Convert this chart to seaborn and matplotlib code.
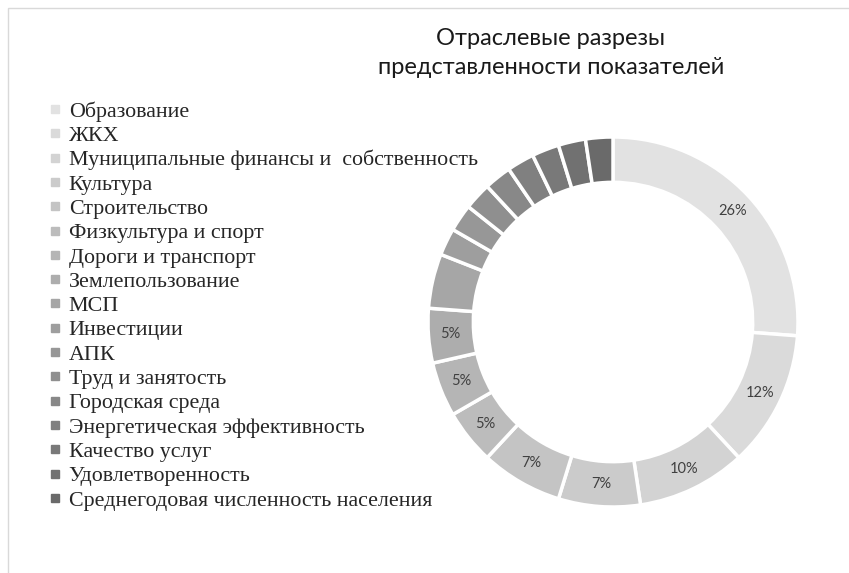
import matplotlib
matplotlib.use("Agg")
import matplotlib.pyplot as plt
import seaborn as sns
import numpy as np
from matplotlib.lines import Line2D
from matplotlib.patches import Rectangle

# data (number of indicators per sector)
sectors = [
    "Образование", "ЖКХ", "Муниципальные финансы и  собственность", "Культура",
    "Строительство", "Физкультура и спорт", "Дороги и транспорт", "Землепользование",
    "МСП", "Инвестиции", "АПК", "Труд и занятость", "Городская среда",
    "Энергетическая эффективность", "Качество услуг", "Удовлетворенность",
    "Среднегодовая численность населения",
]
counts = [11, 5, 4, 3, 3, 2, 2, 2, 2, 1, 1, 1, 1, 1, 1, 1, 1]
n_labeled = 8  # only first slices carry a % label
title = "Отраслевые разрезы\nпредставленности показателей"

sns.set_theme(style="white")
plt.rcParams["font.family"] = ["Lato", "DejaVu Sans"]

colors = sns.blend_palette(["#e2e2e2", "#6a6a6a"], n_colors=len(counts))

W, H = 849, 573
fig = plt.figure(figsize=(W / 100, H / 100), dpi=100)

cx, cy, r = 613, 322, 185
ax = fig.add_axes([(cx - r) / W, (H - cy - r) / H, 2 * r / W, 2 * r / H])
wedges, texts, autotexts = ax.pie(
    counts, colors=colors, startangle=90, counterclock=False,
    autopct="%1.0f%%", pctdistance=0.88,
    wedgeprops=dict(width=0.245, edgecolor="white", linewidth=2.5),
    textprops=dict(color="#404040", fontsize=10.5),
)
for t in autotexts[n_labeled:]:
    t.set_visible(False)
ax.set_xlim(-1, 1)
ax.set_ylim(-1, 1)
ax.set_aspect("equal")

handles = [Line2D([0], [0], marker="s", linestyle="none", markersize=5.5,
                  markerfacecolor=c, markeredgecolor=c) for c in colors]
fig.legend(handles, sectors, loc="upper left", bbox_to_anchor=(50 / W, 1 - 101 / H),
           frameon=False, handlelength=0.5, handletextpad=0.35, labelspacing=0.18,
           prop=dict(family="Liberation Serif", size=15.8), borderpad=0, borderaxespad=0)

fig.text(551 / W, 1 - 53 / H, title, ha="center", va="center", fontsize=17,
         linespacing=1.5, color="#1a1a1a")

fig.patches.append(Rectangle((8 / W, -0.1), 1.2, (H - 8) / H + 0.1, fill=False,
                             edgecolor="#d9d9d9", linewidth=1, transform=fig.transFigure))

fig.savefig("out.png", dpi=100)
